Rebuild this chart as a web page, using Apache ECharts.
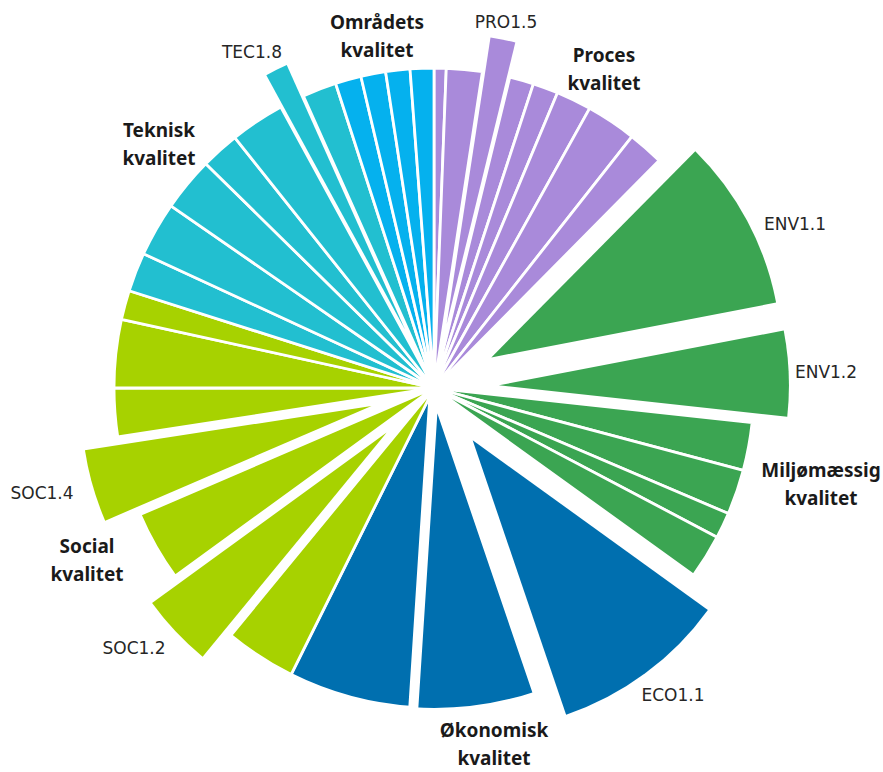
<!DOCTYPE html>
<html>
<head>
<meta charset="utf-8">
<script src="https://cdn.jsdelivr.net/npm/echarts@6/dist/echarts.min.js"></script>
<style>
html,body{margin:0;padding:0;background:#fff;}
#chart{width:883px;height:772px;}
</style>
</head>
<body>
<div id="chart"></div>
<script>
// Slice names and values (angular share), clockwise from 12 o'clock
const proNames = ['PRO1.1','PRO1.2','PRO1.5','PRO1.3','PRO1.4','PRO1.6','PRO1.7','PRO1.8'];
const proValues = [2.2, 6.5, 5.0, 4.4, 4.6, 6.4, 9.1, 6.5];
const envNames = ['ENV1.1','ENV1.2','ENV1.3','ENV1.4','ENV1.5','ENV1.6'];
const envValues = [34.4, 17.1, 8.7, 8.2, 4.7, 8.0];
const ecoNames = ['ECO1.1','ECO1.2','ECO1.3'];
const ecoValues = [35.4, 22.5, 22.8];
const socNames = ['SOC1.1','SOC1.2','SOC1.3','SOC1.4','SOC1.5','SOC1.6','SOC1.7'];
const socValues = [12.9, 14.6, 12.7, 14.5, 8.8, 12.4, 5.3];
const tecNames = ['TEC1.1','TEC1.2','TEC1.3','TEC1.4','TEC1.5','TEC1.8','TEC1.6'];
const tecValues = [7.1, 9.9, 9.8, 7.0, 9.9, 4.5, 6.2];
const omrNames = ['OMR1.1','OMR1.2','OMR1.3','OMR1.4'];
const omrValues = [4.7, 4.5, 4.4, 4.3];
const exploded = ['PRO1.5','ENV1.1','ENV1.2','ECO1.1','SOC1.2','SOC1.4','TEC1.8'];
const detached = ['ECO1.2'];   // slice drawn with a wide white edge (gap to its neighbour)
const groupTitles = ['Proces\nkvalitet','Miljømæssig\nkvalitet','Økonomisk\nkvalitet','Social\nkvalitet','Teknisk\nkvalitet','Områdets\nkvalitet'];

const groups = [
  {names: proNames, values: proValues, color: '#A98ADA'},
  {names: envNames, values: envValues, color: '#3BA552'},
  {names: ecoNames, values: ecoValues, color: '#006FAF'},
  {names: socNames, values: socValues, color: '#A7D200'},
  {names: tecNames, values: tecValues, color: '#22BFD0'},
  {names: omrNames, values: omrValues, color: '#05B1EE'}
];

const NONE = 'rgba(0,0,0,0)';
const baseData = [], explData = [], detData = [];
groups.forEach(g => {
  g.names.forEach((n, i) => {
    const ex = exploded.indexOf(n) >= 0;
    const de = detached.indexOf(n) >= 0;
    baseData.push({
      name: n, value: g.values[i],
      itemStyle: (ex || de) ? {color: NONE, borderWidth: 0} : {color: g.color}
    });
    explData.push({
      name: n, value: g.values[i], selected: ex,
      itemStyle: ex ? {color: g.color, borderWidth: 0} : {color: NONE, borderWidth: 0},
      select: {itemStyle: ex ? {color: g.color, borderWidth: 0} : {color: NONE, borderWidth: 0}}
    });
    detData.push({
      name: n, value: g.values[i],
      itemStyle: de ? {color: g.color} : {color: NONE, borderWidth: 0}
    });
  });
});

const CX = 434, CY = 388;
const codeFont = {fontFamily: 'DejaVu Sans', fontSize: 17, fill: '#262626'};
const titleFont = {fontFamily: 'Noto Sans', fontWeight: 'bold', fontSize: 19, fill: '#1a1a1a', lineHeight: 28};

function codeLabel(text, x, y) {
  return {type: 'text', x: x, y: y, style: Object.assign({text: text, align: 'center', verticalAlign: 'middle'}, codeFont)};
}
function titleLabel(text, x, y) {
  return {type: 'text', x: x, y: y, style: Object.assign({text: text, align: 'center', verticalAlign: 'middle'}, titleFont)};
}

const pieBase = {
  type: 'pie', center: [CX, CY], startAngle: 90, clockwise: true, silent: true,
  avoidLabelOverlap: false, label: {show: false}, labelLine: {show: false},
  emphasis: {disabled: true}
};

const chart = echarts.init(document.getElementById('chart'), null, {renderer: 'svg'});
chart.setOption({
  animation: false,
  backgroundColor: '#fff',
  series: [
    Object.assign({}, pieBase, {
      radius: [0, 320],
      itemStyle: {borderColor: '#fff', borderWidth: 2.8},
      data: baseData
    }),
    Object.assign({}, pieBase, {
      radius: [0, 325],
      itemStyle: {borderColor: '#fff', borderWidth: 10},
      data: detData
    }),
    Object.assign({}, pieBase, {
      radius: [0, 290],
      selectedMode: 'multiple',
      selectedOffset: 65,
      itemStyle: {borderWidth: 0},
      data: explData
    })
  ],
  graphic: [
    titleLabel(groupTitles[5], 377, 36),
    titleLabel(groupTitles[0], 604, 69),
    titleLabel(groupTitles[1], 821, 484),
    titleLabel(groupTitles[2], 494, 744),
    titleLabel(groupTitles[3], 87, 560),
    titleLabel(groupTitles[4], 159, 144),
    codeLabel('TEC1.8', 252, 52),
    codeLabel('PRO1.5', 506, 22),
    codeLabel('ENV1.1', 795, 224),
    codeLabel('ENV1.2', 826, 372),
    codeLabel('ECO1.1', 673, 695),
    codeLabel('SOC1.4', 42, 493),
    codeLabel('SOC1.2', 134, 648)
  ]
});
</script>
</body>
</html>
